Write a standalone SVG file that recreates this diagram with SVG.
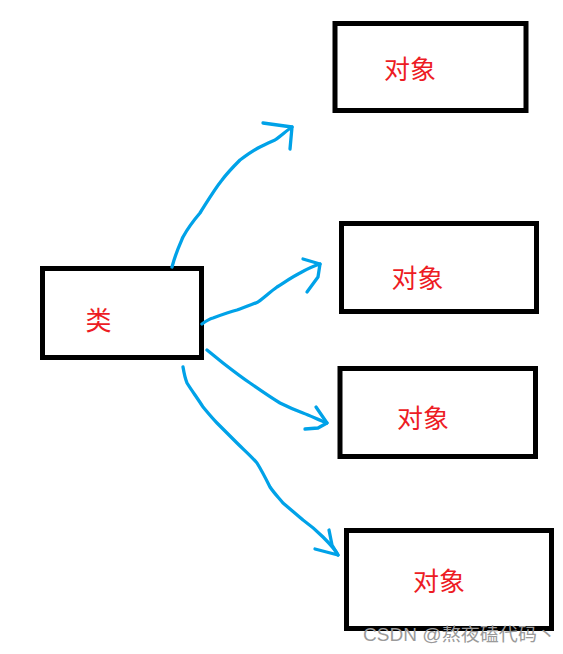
<svg xmlns="http://www.w3.org/2000/svg" width="563" height="654" viewBox="0 0 563 654">
<defs>
<style>
.box{fill:#ffffff;stroke:#000000;stroke-width:5}
.lbl{font-family:"Noto Sans CJK SC","Noto Sans",sans-serif;font-size:26px;fill:#ed1c24;text-anchor:middle;dominant-baseline:central}
.arr{fill:none;stroke:#00a2e8;stroke-width:3.3;stroke-linecap:round;stroke-linejoin:round}
.wm{font-family:"Liberation Sans","Noto Sans CJK SC",sans-serif;font-size:18px;fill:#9a9a9a}
</style>
</defs>
<rect width="563" height="654" fill="#ffffff"/>
<g id="class">
<rect class="box" x="42.5" y="268.5" width="159" height="89"/>
<text class="lbl" x="98.5" y="318.5">类</text>
</g>
<g id="obj1">
<rect class="box" x="335" y="23.5" width="191" height="87"/>
<text class="lbl" x="410" y="67">对象</text>
</g>
<g id="obj2">
<rect class="box" x="341.5" y="223.5" width="195" height="88"/>
<text class="lbl" x="417.5" y="276">对象</text>
</g>
<g id="obj3">
<rect class="box" x="340" y="368.5" width="195.5" height="88"/>
<text class="lbl" x="423" y="416">对象</text>
</g>
<g id="obj4">
<rect class="box" x="346.5" y="530.5" width="205" height="98"/>
<text class="lbl" x="439" y="579">对象</text>
</g>
<g id="connectors">
<path class="arr" d="M172,267 C176,252 180,244 183,237 C189,226 194,220 200,213 C207,202 214,190 222,180 C228,172 234,166 240,160 C248,154 254,150 260,147 C266,144 270,142 275,140 C281,136 286,131 292,127"/>
<path class="arr" d="M263,123 L292,127 L290,149"/>
<path class="arr" d="M202,324 C206,321 209,319 213,318 C221,315 229,312 237,310 C245,307 251,305 258,302 C265,297 270,292 277,287 C285,282 292,277 300,273 C307,269 313,266 320,264"/>
<path class="arr" d="M303,259 L320,264 L318,277 L307,292"/>
<path class="arr" d="M207,350 C212,354 218,359 223,363 C232,370 241,377 250,383 C260,390 270,397 280,403 C288,407 295,410 303,413 C311,416 319,420 327,423"/>
<path class="arr" d="M316,407 L327,423 L318,428 L305,429"/>
<path class="arr" d="M183,367 C184,373 185,378 187,383 C192,391 198,399 203,407 C208,413 212,418 217,423 C224,430 230,436 237,443 C244,450 251,456 257,463 C262,471 266,479 270,487 C274,493 279,498 283,503 C290,509 296,514 303,520 C310,525 317,531 323,537 C329,543 335,549 338,555"/>
<path class="arr" d="M329,530 L332,545 L338,555 L315,549"/>
</g>
<text class="wm" x="363" y="641" textLength="193" lengthAdjust="spacingAndGlyphs">CSDN @熬夜磕代码丶</text>
</svg>
